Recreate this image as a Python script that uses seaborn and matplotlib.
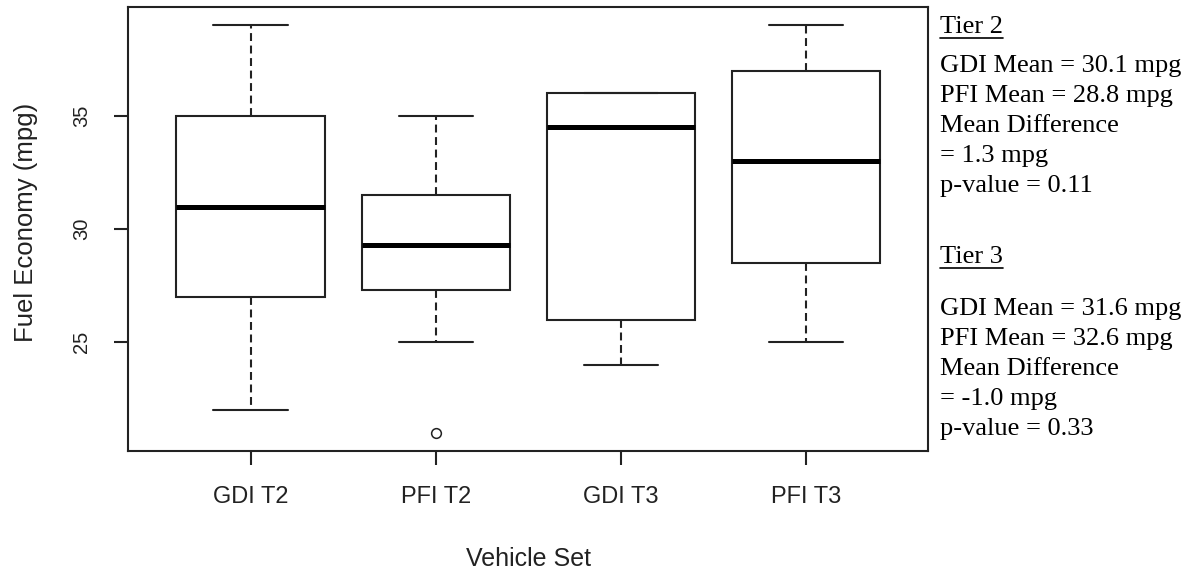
import matplotlib
matplotlib.use("Agg")
import matplotlib.pyplot as plt
from matplotlib.lines import Line2D
import pandas as pd
import seaborn as sns

# Vehicle sets on the x axis
groups = ["GDI T2", "PFI T2", "GDI T3", "PFI T3"]

# Five-number summary of each set (mpg)
whisker_low = [22.0, 25.0, 24.0, 25.0]
hinge_low = [27.0, 27.3, 26.0, 28.5]
medians = [31.0, 29.3, 34.5, 33.0]
hinge_high = [35.0, 31.5, 36.0, 37.0]
whisker_high = [39.0, 35.0, 36.0, 39.0]

# Points beyond the whiskers
outlier_group = ["PFI T2"]
outlier_value = [21.0]

y_ticks = [25, 30, 35]
x_label = "Vehicle Set"
y_label = "Fuel Economy (mpg)"

tier2_title = "Tier 2"
tier2_lines = ["GDI Mean = 30.1 mpg", "PFI Mean = 28.8 mpg",
               "Mean Difference", "= 1.3 mpg", "p-value = 0.11"]
tier3_title = "Tier 3"
tier3_lines = ["GDI Mean = 31.6 mpg", "PFI Mean = 32.6 mpg",
               "Mean Difference", "= -1.0 mpg", "p-value = 0.33"]

INK = "#222222"
W, H = 1193, 575

sns.set_theme(style="ticks")
plt.rcParams["font.family"] = ["Liberation Sans", "DejaVu Sans"]

# Each set is given by its five summary values; with five values the
# quartiles are exactly the 2nd and 4th, and whis=(0, 100) sends the
# whiskers to the ends.
rows = []
for g, a, b, c, d, e in zip(groups, whisker_low, hinge_low, medians,
                            hinge_high, whisker_high):
    for v in (a, b, c, d, e):
        rows.append({"set": g, "mpg": v})
df = pd.DataFrame(rows)
out_df = pd.DataFrame({"set": outlier_group, "mpg": outlier_value})

fig = plt.figure(figsize=(W / 100, H / 100), dpi=100)
ax = fig.add_axes([128.3 / W, 1 - 451 / H, 800 / W, 443.7 / H])

sns.boxplot(data=df, x="set", y="mpg", order=groups, ax=ax,
            width=0.8, whis=(0, 100), showfliers=False,
            color="white", linecolor=INK, linewidth=1.5, saturation=1,
            whiskerprops=dict(linestyle=(0, (3.8, 2.2))),
            medianprops=dict(linewidth=3.6, color="black"))
sns.stripplot(data=out_df, x="set", y="mpg", order=groups, ax=ax,
              jitter=False, marker="o", size=7, color="white",
              edgecolor=INK, linewidth=1.1, zorder=5)

ax.set_xlim(-0.66, 3.66)
ax.set_ylim(20.2, 39.8)
ax.set_yticks(y_ticks)
ax.set_yticklabels([str(t) for t in y_ticks])
ax.set_xticks(range(len(groups)))
ax.set_xticklabels(groups)

for side in ("left", "right", "top", "bottom"):
    ax.spines[side].set_visible(True)
    ax.spines[side].set_color(INK)
    ax.spines[side].set_linewidth(1.5)

ax.tick_params(axis="both", direction="out", length=10, width=1.5,
               color=INK, labelcolor=INK)
ax.tick_params(axis="x", labelsize=17, pad=15.5)
ax.tick_params(axis="y", labelsize=14.5, pad=17, labelrotation=90)
for lab in ax.get_yticklabels():
    lab.set_verticalalignment("center")

ax.set_xlabel(x_label, fontsize=18, color=INK)
ax.set_ylabel(y_label, fontsize=18.5, color=INK)
ax.xaxis.set_label_coords(0.5, -0.216)
ax.yaxis.set_label_coords(-0.113, 0.515)

# Summary notes to the right of the plot
serif = ["Liberation Serif", "DejaVu Serif"]
x_txt = 940 / W


def note(text, baseline_px):
    return fig.text(x_txt, 1 - baseline_px / H, text, ha="left",
                    va="baseline", fontsize=19, family=serif, color="black")


titles = [note(tier2_title, 33)]
for i, s in enumerate(tier2_lines):
    note(s, 72 + 30 * i)
titles.append(note(tier3_title, 263))
for i, s in enumerate(tier3_lines):
    note(s, 315 + 30 * i)

fig.canvas.draw()
renderer = fig.canvas.get_renderer()
for t, base in zip(titles, (33, 263)):
    bb = t.get_window_extent(renderer)
    y = H - (base + 4.5)
    fig.add_artist(Line2D([bb.x0 / W, bb.x1 / W], [y / H, y / H],
                          transform=fig.transFigure, color="black",
                          linewidth=1.2))

fig.savefig("out.png", dpi=100, facecolor="white")
